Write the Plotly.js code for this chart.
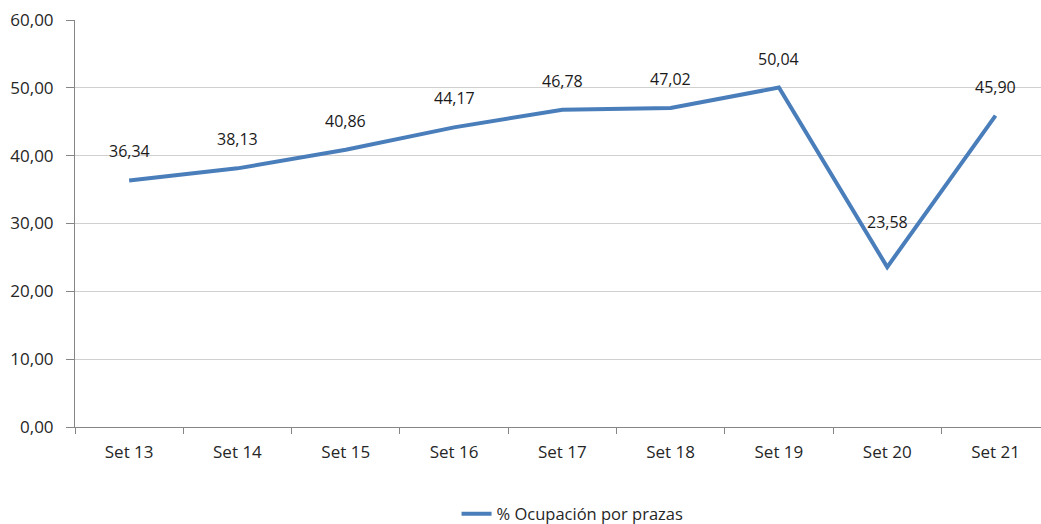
<!DOCTYPE html>
<html>
<head>
<meta charset="utf-8">
<script src="https://cdn.plot.ly/plotly-3.0.1.min.js"></script>
<style>html,body{margin:0;padding:0;background:#fff}#chart{width:1041px;height:524px}</style>
</head>
<body>
<div id="chart"></div>
<script>
const categories = ["Set 13","Set 14","Set 15","Set 16","Set 17","Set 18","Set 19","Set 20","Set 21"];
const occupancy = [36.34, 38.13, 40.86, 44.17, 46.78, 47.02, 50.04, 23.58, 45.90];
const seriesName = "% Ocupación por prazas";
const yTickVals = [0, 10, 20, 30, 40, 50, 60];

const fmt = v => v.toFixed(2).replace('.', ',');
const font = "Open Sans, Noto Sans, sans-serif";

const annotations = categories.map((c, i) => ({
  x: c, y: occupancy[i], xref: 'x', yref: 'y',
  text: fmt(occupancy[i]), showarrow: false,
  yshift: i === 7 ? 45 : 29,
  font: {family: font, size: 16, color: '#1a1a1a'}
}));

Plotly.newPlot('chart', [{
  x: categories, y: occupancy, type: 'scatter', mode: 'lines',
  name: seriesName,
  line: {color: '#4a7ebb', width: 4}
}], {
  width: 1041, height: 524,
  margin: {l: 75, r: 0, t: 20, b: 97},
  paper_bgcolor: '#fff', plot_bgcolor: '#fff',
  font: {family: font, size: 17, color: '#262626'},
  showlegend: true,
  legend: {orientation: 'h', x: 0.55, xref: 'container', xanchor: 'center',
           y: 0.019, yref: 'container', yanchor: 'middle',
           font: {family: font, size: 16.5, color: '#262626'}},
  xaxis: {
    type: 'category', range: [-0.5, 8.42], automargin: false,
    showgrid: false, showline: true, linecolor: '#868686', linewidth: 1,
    ticks: 'outside', ticklen: 6, tickcolor: '#868686', tickson: 'boundaries',
    ticklabelstandoff: 10,
    tickfont: {family: font, size: 17, color: '#262626'},
    zeroline: false, fixedrange: true
  },
  yaxis: {
    range: [0, 60], tickvals: yTickVals, ticktext: yTickVals.map(fmt), automargin: false,
    showgrid: true, gridcolor: '#d0d0d0', gridwidth: 1,
    showline: true, linecolor: '#868686', linewidth: 1,
    ticks: 'outside', ticklen: 8, tickcolor: '#868686',
    ticklabelstandoff: 9,
    tickfont: {family: font, size: 17, color: '#262626'},
    zeroline: false, fixedrange: true
  },
  annotations: annotations
}, {displayModeBar: false, staticPlot: true});
</script>
</body>
</html>
